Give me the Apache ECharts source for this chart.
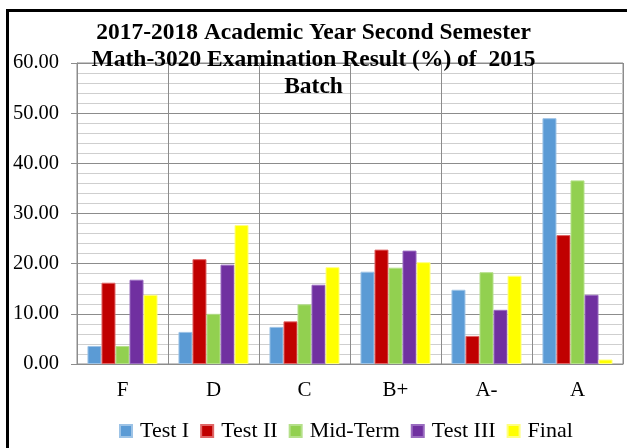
<!DOCTYPE html>
<html>
<head>
<meta charset="utf-8">
<title>Math-3020 Examination Result</title>
<script src="https://cdn.jsdelivr.net/npm/echarts@6/dist/echarts.min.js"></script>
<style>
  html, body { margin: 0; padding: 0; background: #fff; }
  #chart { width: 627px; height: 448px; }
</style>
</head>
<body>
<div id="chart"></div>
<script>
const grades = ['F', 'D', 'C', 'B+', 'A-', 'A']
const testOne = [3.6, 6.4, 7.4, 18.4, 14.8, 49.0]
const testTwo = [16.2, 20.9, 8.5, 22.8, 5.6, 25.7]
const midTerm = [3.6, 10.0, 11.9, 19.2, 18.3, 36.6]
const testThree = [16.8, 19.8, 15.8, 22.6, 10.8, 13.8]
const finalExam = [13.8, 27.7, 19.3, 20.3, 17.6, 0.9]

const serif = "'Liberation Serif', 'Times New Roman', serif"
const gridGray = '#8c8c8c'

const chart = echarts.init(document.getElementById('chart'))

// series as [name, values, fill, border]
const seriesList = [
  ['Test I', testOne, '#5b9bd5', '#9dc3e6'],
  ['Test II', testTwo, '#c00000', '#e06666'],
  ['Mid-Term', midTerm, '#92d050', '#b5e08a'],
  ['Test III', testThree, '#7030a0', '#9a6cc0'],
  ['Final', finalExam, '#ffff00', '#ffff80']
]

chart.setOption({
  animation: false,
  title: {
    text: '2017-2018 Academic Year Second Semester\nMath-3020 Examination Result (%) of  2015\nBatch',
    left: 'center',
    top: 19,
    padding: 0,
    textStyle: {
      fontFamily: serif,
      fontSize: 23.5,
      fontWeight: 'bold',
      color: '#000',
      lineHeight: 27
    }
  },
  legend: {
    left: 114,
    top: 415,
    itemWidth: 12,
    itemHeight: 12,
    itemGap: 11,
    icon: 'rect',
    textStyle: { fontFamily: serif, fontSize: 22, color: '#000', padding: [0, 0, 0, 3] },
    data: seriesList.map(s => s[0])
  },
  grid: {
    left: 77,
    right: 4,
    top: 63,
    bottom: 84,
    show: true,
    borderColor: gridGray,
    borderWidth: 1
  },
  xAxis: {
    type: 'category',
    data: grades,
    axisLine: { lineStyle: { color: gridGray } },
    axisTick: { show: false },
    splitLine: { show: true, lineStyle: { color: gridGray } },
    axisLabel: { fontFamily: serif, fontSize: 21, color: '#000', margin: 16 }
  },
  yAxis: {
    type: 'value',
    min: 0,
    max: 60,
    interval: 10,
    axisLine: { show: true, lineStyle: { color: gridGray } },
    axisTick: { show: true, length: 6, lineStyle: { color: gridGray } },
    splitLine: { lineStyle: { color: gridGray } },
    minorTick: { show: false, splitNumber: 5 },
    minorSplitLine: { show: true, lineStyle: { color: '#cfcfcf' } },
    axisLabel: {
      fontFamily: serif,
      fontSize: 20.5,
      color: '#000',
      margin: 18,
      formatter: v => v.toFixed(2)
    }
  },
  graphic: [{
    type: 'rect',
    shape: { x: 7.5, y: 10.5, width: 700, height: 500 },
    style: { fill: 'none', stroke: '#000', lineWidth: 3 },
    silent: true
  }],
  series: seriesList.map(([name, values, fill, border]) => ({
    name: name,
    type: 'bar',
    data: values,
    barGap: '0%',
    barCategoryGap: '23%',
    itemStyle: { color: fill, borderColor: border, borderWidth: 1 }
  }))
})
</script>
</body>
</html>
